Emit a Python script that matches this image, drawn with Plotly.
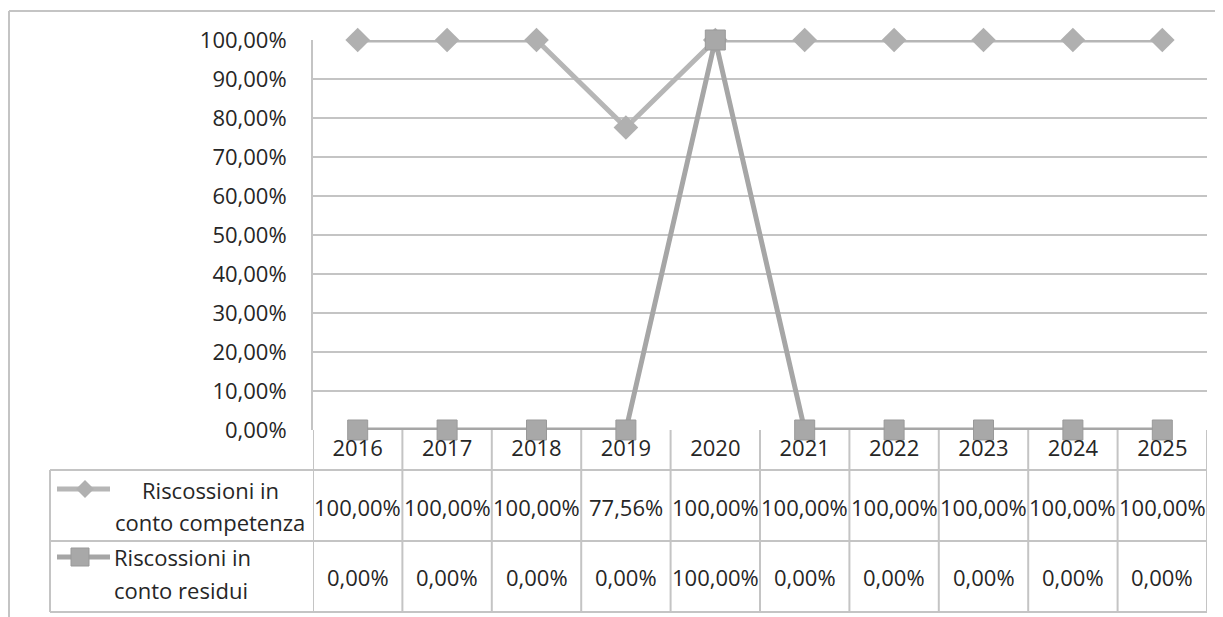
import plotly.graph_objects as go

# Dati
anni = ['2016', '2017', '2018', '2019', '2020', '2021', '2022', '2023', '2024', '2025']
competenza = [1.0, 1.0, 1.0, 0.7756, 1.0, 1.0, 1.0, 1.0, 1.0, 1.0]
residui = [0.0, 0.0, 0.0, 0.0, 1.0, 0.0, 0.0, 0.0, 0.0, 0.0]
nome_competenza = ['Riscossioni in', 'conto competenza']
nome_residui = ['Riscossioni in', 'conto residui']

W, H = 1223, 617
OFF = 8  # margine della pagina
L, R, T, B = 313 - OFF, 16 + OFF, 40 - OFF, 187 + OFF
FONT = 'Open Sans'
FS = 22
TESTO = '#262626'
GRIGIO = '#c4c4c4'


def px_x(x):
    # pixel orizzontale (immagine) -> coordinata paper
    return (x - OFF - L) / (W - L - R)


def px_y(y):
    # pixel verticale (immagine) -> coordinata paper
    return (H - B - (y - OFF)) / (H - T - B)


def fmt(v):
    return f'{v * 100:.2f}%'.replace('.', ',')


fig = go.Figure()

fig.add_trace(go.Scatter(
    x=anni, y=competenza, mode='lines+markers', name='competenza',
    line=dict(color='#b6b6b6', width=5),
    marker=dict(symbol='diamond', size=19, color='#b0b0b0'),
    cliponaxis=False, showlegend=False,
))
fig.add_trace(go.Scatter(
    x=anni, y=residui, mode='lines+markers', name='residui',
    line=dict(color='#a6a6a6', width=5),
    marker=dict(symbol='square', size=20, color='#a8a8a8', line=dict(color='#999', width=1)),
    cliponaxis=False, showlegend=False,
))

shapes = []
ln = dict(color=GRIGIO, width=2)

# bordo esterno
shapes.append(dict(type='line', xref='paper', yref='paper', x0=px_x(OFF + 1), x1=px_x(W + OFF), y0=px_y(11), y1=px_y(11), line=ln))
shapes.append(dict(type='line', xref='paper', yref='paper', x0=px_x(OFF + 1), x1=px_x(OFF + 1), y0=px_y(11), y1=px_y(H + OFF), line=ln))

# tabella dati: righe orizzontali
for yy in [470, 541, 612]:
    shapes.append(dict(type='line', xref='paper', yref='paper', x0=px_x(50), x1=1, y0=px_y(yy), y1=px_y(yy), line=ln))
shapes.append(dict(type='line', xref='paper', yref='paper', x0=px_x(50), x1=px_x(50), y0=px_y(470), y1=px_y(612), line=ln))
# tabella dati: colonne
for i in range(len(anni) + 1):
    shapes.append(dict(type='line', xref='x', yref='paper', x0=i - 0.5, x1=i - 0.5, y0=0, y1=px_y(612), line=ln))

# chiavi della legenda nella tabella
for yy, col in [(489, '#b6b6b6'), (557, '#a6a6a6')]:
    shapes.append(dict(type='line', xref='paper', yref='paper', x0=px_x(57), x1=px_x(110), y0=px_y(yy), y1=px_y(yy),
                       line=dict(color=col, width=5)))
shapes.append(dict(type='path', xref='paper', yref='paper', xsizemode='pixel', ysizemode='pixel',
                   xanchor=px_x(85), yanchor=px_y(489), path='M -9 0 L 0 9 L 9 0 L 0 -9 Z',
                   fillcolor='#b0b0b0', line=dict(width=0)))
shapes.append(dict(type='rect', xref='paper', yref='paper', xsizemode='pixel', ysizemode='pixel',
                   xanchor=px_x(80), yanchor=px_y(557), x0=-9, x1=9, y0=-9, y1=9,
                   fillcolor='#a8a8a8', line=dict(color='#999', width=1)))

testo = dict(size=FS, color=TESTO, family=FONT)
annotations = []
for i in range(len(anni)):
    annotations.append(dict(x=i, y=px_y(507), xref='x', yref='paper', text=fmt(competenza[i]),
                            xanchor='center', yanchor='middle', showarrow=False, font=testo))
    annotations.append(dict(x=i, y=px_y(577), xref='x', yref='paper', text=fmt(residui[i]),
                            xanchor='center', yanchor='middle', showarrow=False, font=testo))
for riga, yy in zip(nome_competenza, [490, 522]):
    annotations.append(dict(x=px_x(210), y=px_y(yy), xref='paper', yref='paper', text=riga,
                            xanchor='center', yanchor='middle', showarrow=False, font=testo))
for riga, yy in zip(nome_residui, [557, 590]):
    annotations.append(dict(x=px_x(112), y=px_y(yy), xref='paper', yref='paper', text=riga,
                            xanchor='left', yanchor='middle', showarrow=False, font=testo))

fig.update_layout(
    width=W, height=H,
    margin=dict(l=L, r=R, t=T, b=B),
    paper_bgcolor='white', plot_bgcolor='white',
    separators=',.',
    font=dict(family=FONT, size=FS, color=TESTO),
    xaxis=dict(type='category', range=[-0.5, len(anni) - 0.5], showgrid=False, zeroline=False,
               showline=False, ticks='', tickfont=dict(size=FS), ticklabelstandoff=3),
    yaxis=dict(range=[0, 1], tickvals=[i / 10 for i in range(11)], tickformat='.2%',
               showgrid=True, gridcolor=GRIGIO, gridwidth=2, zeroline=False,
               showline=True, linecolor=GRIGIO, linewidth=2, ticks='', ticklabelstandoff=20,
               tickfont=dict(size=FS)),
    shapes=shapes,
    annotations=annotations,
)

fig.write_html('out.html')
